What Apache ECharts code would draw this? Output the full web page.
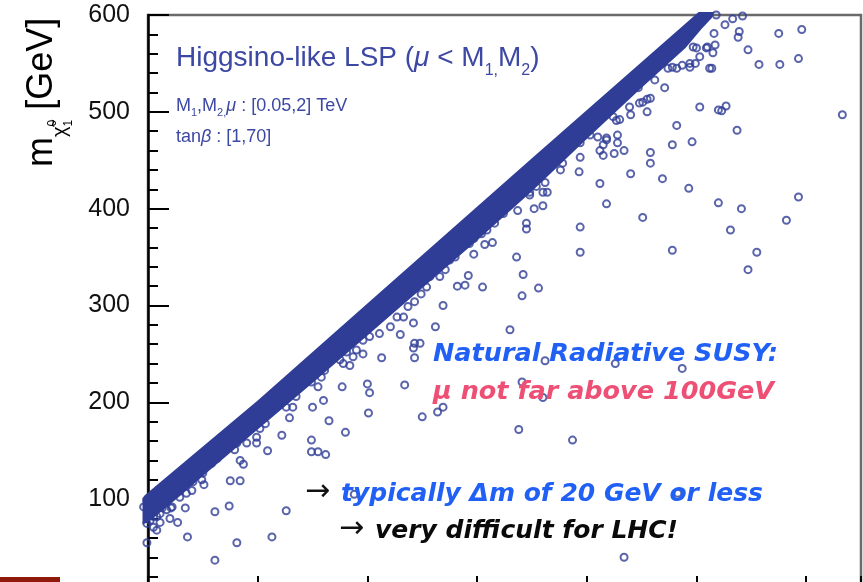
<!DOCTYPE html>
<html>
<head>
<meta charset="utf-8">
<script src="https://cdn.jsdelivr.net/npm/echarts@6/dist/echarts.min.js"></script>
<style>
  html, body { margin: 0; padding: 0; background: #fff; }
  #chart { width: 863px; height: 582px; }
</style>
</head>
<body>
<div id="chart"></div>
<script>
// Axis ranges (GeV)
const X_MIN = 100, X_MAX = 750, X_STEP = 100;
const Y_MIN = 0, Y_MAX = 600, Y_STEP = 100;

// Outline of the densely populated strip just below the diagonal
const bandUpper = [[95, 101], [97, 104], [200, 202], [300, 302], [450, 452], [602, 603], [616, 603]];
const bandLower = [[95, 74], [100, 76], [130, 104], [150, 124], [200, 172], [250, 220], [300, 269],
  [350, 318], [400, 367], [450, 418], [500, 472], [550, 525], [590, 566], [605, 586], [614, 597]];

// Model points along the ragged lower edge of the strip
const edgePoints = [
  [615, 561], [617, 569], [616, 581], [609, 566], [600, 566], [599, 550], [603, 557], [594, 546], [582, 545], [574, 545],
  [555, 500], [540, 497], [530, 492], [524, 495], [555, 513], [558, 514], [548, 509], [539, 505], [528, 476], [518, 473],
  [528, 468], [534, 460], [525, 457], [515, 455], [527, 491], [510, 474], [503, 476], [518, 471], [515, 466], [512, 460],
  [494, 453], [494, 468], [476, 453], [478, 447], [476, 440], [587, 548], [594, 550], [578, 546], [610, 567], [612, 545], [597, 567],
  [460, 417], [454, 423], [448, 417], [431, 409], [424, 395], [416, 385], [409, 378], [404, 374], [397, 369],
  [393, 364], [387, 368], [380, 350], [375, 347], [371, 337], [366, 330], [357, 330], [354, 319], [349, 312], [343, 304],
  [337, 299], [333, 288], [327, 288], [321, 278], [311, 271], [302, 268], [296, 264], [290, 254], [296, 250],
  [275, 244], [284, 238], [278, 240], [287, 247], [281, 252], [261, 233], [258, 226], [249, 221], [242, 223], [235, 206],
  [232, 195], [226, 195], [217, 195], [208, 188], [207, 178], [202, 173], [199, 164], [190, 158], [181, 158], [179, 151],
  [166, 147], [163, 142], [158, 137], [150, 127], [149, 120], [141, 118], [140, 109], [135, 106], [129, 102], [122, 92],
  [117, 89], [111, 85], [105, 82], [99, 99], [96, 92], [102, 85], [108, 82], [99, 75], [105, 71]
];

// Isolated model points further from the diagonal
const scatterPoints = [
  [618, 600], [626, 590], [633, 596], [642, 599], [639, 583], [638, 577], [675, 581], [696, 585],
  [647, 564], [657, 549], [676, 549], [693, 555], [733, 497], [603, 505], [623, 501], [627, 506], [620, 502],
  [637, 481], [582, 486], [578, 466], [596, 469], [558, 458], [558, 447], [540, 436], [569, 431], [593, 421],
  [693, 412], [571, 525], [614, 545], [562, 533], [547, 525], [551, 510], [493, 438], [462, 427], [464, 417],
  [442, 417], [448, 414], [512, 426],
  [518, 405], [551, 391], [620, 406], [641, 400], [682, 388], [631, 378], [578, 357], [655, 355], [647, 337],
  [494, 381], [494, 355], [526, 240], [587, 235], [583, 106], [534, 40],
  [342, 282], [362, 278], [430, 275], [343, 261], [348, 261], [342, 256], [343, 246], [334, 218], [462, 243],
  [441, 221], [460, 205], [369, 195], [364, 190], [350, 185],
  [437, 398], [452, 400], [460, 403], [445, 385], [445, 379], [436, 350], [442, 332], [456, 318], [441, 310],
  [405, 319], [392, 331], [397, 353], [389, 321], [382, 320], [369, 300], [330, 270], [414, 365], [407, 363], [313, 246],
  [277, 216], [260, 202], [250, 195], [229, 184], [265, 181], [280, 169], [222, 166], [249, 161], [249, 149],
  [255, 149], [262, 146], [209, 150], [199, 158], [184, 140], [187, 136], [175, 119], [184, 119], [151, 115],
  [174, 93], [161, 87], [134, 91], [226, 88], [255, 216],
  [300, 219], [302, 210], [301, 189], [213, 61], [181, 55], [161, 37], [136, 61], [99, 55],
  [127, 76], [120, 80], [111, 76], [108, 68], [102, 78], [121, 91], [113, 91],
  [288, 105], [438, 172], [487, 161]
];

const MARK = '#2f3d96';
const NAVY_TEXT = '#3c48a3';
const BRIGHT_BLUE = '#2160f5';
const PINK = '#ee4f74';
const SANS = '"Liberation Sans", Arial, Helvetica, sans-serif';
const WIDE = '"DejaVu Sans", Verdana, sans-serif';

// Lay out a line of text pieces (sub/superscripts, italic symbols) left to right
const measureCtx = document.createElement('canvas').getContext('2d');
function layoutLine(x0, baseline, segs, base) {
  let x = x0;
  const out = [];
  segs.forEach(function (s0) {
    const s = Object.assign({}, base, s0);
    const fStyle = s.style || 'normal', fWeight = s.weight || 'normal';
    measureCtx.font = fStyle + ' ' + fWeight + ' ' + s.size + 'px ' + s.family;
    out.push({
      type: 'text', silent: true, z: 100,
      x: x, y: baseline + (s.dy || 0) - 0.346 * s.size,
      style: {
        text: s.t, fontSize: s.size, fontFamily: s.family, fontStyle: fStyle, fontWeight: fWeight,
        fill: s.color, align: 'left', verticalAlign: 'middle'
      }
    });
    if (!s.noAdvance) x += measureCtx.measureText(s.t).width;
  });
  return out;
}

const annotations = [].concat(
  layoutLine(176, 68, [
    { t: 'Higgsino-like LSP (' }, { t: 'μ', style: 'italic' }, { t: ' < M' },
    { t: '1,', size: 16, dy: 8 }, { t: 'M' }, { t: '2', size: 16, dy: 8 }, { t: ')' }
  ], { size: 28, family: SANS, color: NAVY_TEXT }),
  layoutLine(176, 112, [
    { t: 'M' }, { t: '1', size: 11, dy: 5 }, { t: ',M' }, { t: '2,', size: 11, dy: 5 },
    { t: 'μ', style: 'italic' }, { t: ' : [0.05,2] TeV' }
  ], { size: 18, family: SANS, color: NAVY_TEXT }),
  layoutLine(176, 143, [
    { t: 'tan' }, { t: 'β', style: 'italic' }, { t: ' : [1,70]' }
  ], { size: 18, family: SANS, color: NAVY_TEXT }),
  layoutLine(433, 363, [{ t: 'Natural Radiative SUSY:' }],
    { size: 25.5, family: WIDE, weight: 'bold', style: 'italic', color: BRIGHT_BLUE }),
  layoutLine(433, 401, [{ t: 'μ not far above 100GeV' }],
    { size: 25.5, family: WIDE, weight: 'bold', style: 'italic', color: PINK }),
  layoutLine(305, 503, [{ t: '→' }], { size: 30, family: WIDE, color: '#111' }),
  layoutLine(341, 503, [{ t: 'typically Δm of 20 GeV or less' }],
    { size: 25, family: WIDE, weight: 'bold', style: 'italic', color: BRIGHT_BLUE }),
  layoutLine(339, 540, [{ t: '→' }], { size: 30, family: WIDE, color: '#111' }),
  layoutLine(375, 540, [{ t: 'very difficult for LHC!' }],
    { size: 25, family: WIDE, weight: 'bold', style: 'italic', color: '#0a0a0a' })
);

// Rotated axis title: m with neutralino subscript, then unit
const yTitle = {
  type: 'group', x: 55, y: 167, rotation: Math.PI / 2, silent: true,
  children: layoutLine(0, 0, [
    { t: 'm', size: 36 },
    { t: 'χ̃', size: 20, dy: 12 },
    { t: '0', size: 12, dy: 2, noAdvance: true },
    { t: '1', size: 12, dy: 18 },
    { t: ' [GeV]', size: 36 }
  ], { family: SANS, color: '#000' })
};

const bandOutline = bandUpper.concat(bandLower.slice().reverse());

const chart = echarts.init(document.getElementById('chart'), null, { renderer: 'canvas' });
chart.setOption({
  animation: false,
  backgroundColor: '#fff',
  grid: {
    left: 148, right: 2, top: 15, bottom: -14,
    outerBoundsMode: 'none',
    show: true, borderColor: '#6a6a6a', borderWidth: 2.5, backgroundColor: 'transparent'
  },
  xAxis: {
    type: 'value', min: X_MIN, max: X_MAX, interval: X_STEP,
    axisLine: { lineStyle: { color: '#000', width: 2 } },
    axisTick: { inside: true, length: 20, lineStyle: { color: '#000', width: 2 } },
    minorTick: { show: true, splitNumber: 5, length: 10, lineStyle: { color: '#000', width: 2 } },
    axisLabel: { show: false },
    splitLine: { show: false }
  },
  yAxis: {
    type: 'value', min: Y_MIN, max: Y_MAX, interval: Y_STEP,
    axisLine: { lineStyle: { color: '#000', width: 2.5 } },
    axisTick: { inside: true, length: 21, lineStyle: { color: '#000', width: 2 } },
    minorTick: { show: true, splitNumber: 5, length: 10, lineStyle: { color: '#000', width: 2 } },
    axisLabel: { fontSize: 25, fontFamily: SANS, color: '#111', margin: 18, showMinLabel: false },
    splitLine: { show: false }
  },
  graphic: annotations.concat([
    yTitle,
    { type: 'rect', shape: { x: 0, y: 577, width: 60, height: 5 }, style: { fill: '#8f1a0c' }, silent: true }
  ]),
  series: [
    {
      type: 'custom',
      coordinateSystem: 'cartesian2d',
      clip: false,
      silent: true,
      z: 2,
      data: bandOutline,
      renderItem: function (params, api) {
        if (params.dataIndex !== 0) return null;
        return {
          type: 'polygon',
          shape: { points: bandOutline.map(function (p) { return api.coord(p); }) },
          style: { fill: MARK }
        };
      }
    },
    {
      type: 'scatter',
      data: edgePoints.concat(scatterPoints),
      symbol: 'circle',
      symbolSize: 7,
      clip: false,
      silent: true,
      z: 3,
      itemStyle: { color: 'rgba(0,0,0,0)', borderColor: MARK, borderWidth: 2 }
    }
  ]
});
</script>
</body>
</html>
